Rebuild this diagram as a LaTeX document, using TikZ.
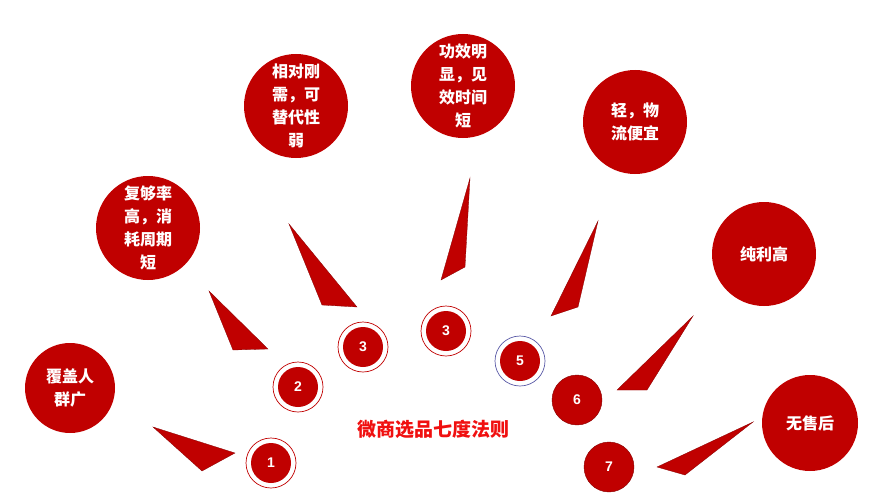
\documentclass[tikz,border=0pt]{standalone}
\usepackage{fontspec}
\newfontfamily\cjk{Noto Sans CJK SC}
\newfontfamily\numf{Liberation Sans}
\definecolor{dred}{HTML}{C00000}
\definecolor{tred}{HTML}{F01010}
\begin{document}
\begin{tikzpicture}[x=1pt,y=-1pt,
 big/.style={circle,fill=dred,text=white,font=\cjk\bfseries\fontsize{16}{23}\selectfont,align=center,inner sep=0pt},
 num/.style={circle,fill=dred,text=white,font=\numf\bfseries\fontsize{14}{14}\selectfont,minimum size=40pt,inner sep=0pt},
 ring/.style={circle,draw=dred,line width=0.7pt,minimum size=50pt,inner sep=0pt},
 wedge/.style={fill=dred,draw=dred!70!black,line width=0.3pt}]
\useasboundingbox (0,0) rectangle (891,503);
\node[big,minimum size=90pt] (b1) at (70,388) {覆盖人\\群广};
\node[big,minimum size=104pt] (b2) at (148,228) {复够率\\高，消\\耗周期\\短};
\node[big,minimum size=104pt] (b3) at (296,106) {相对刚\\需，可\\替代性\\弱};
\node[big,minimum size=104pt] (b4) at (463,86) {功效明\\显，见\\效时间\\短};
\node[big,minimum size=104pt] (b5) at (635,122) {轻，物\\流便宜};
\node[big,minimum size=104pt] (b6) at (764,254) {纯利高};
\node[big,minimum size=96pt] (b7) at (810,423) {无售后};
\node[ring] (r1) at (271,463) {}; \node[num] (n1) at (r1) {1};
\node[ring] (r2) at (298,387) {}; \node[num] (n2) at (r2) {2};
\node[ring] (r3) at (363,347) {}; \node[num] (n3) at (r3) {3};
\node[ring] (r4) at (446,331) {}; \node[num] (n4) at (r4) {3};
\node[ring,draw=gray!70!blue] (r5) at (520,361) {}; \node[num] (n5) at (r5) {5};
\node[num,minimum size=50pt,draw=dred!70!black] (n6) at (577,400) {6};
\node[num,minimum size=50pt,draw=dred!70!black] (n7) at (609,467) {7};
\node[text=tred,font=\cjk\bfseries\fontsize{19}{19}\selectfont] (title) at (433,429) {微商选品七度法则};
\fill[wedge] (153,427) -- (235,453) -- (202,471) -- cycle;
\fill[wedge] (209,291) -- (268,349) -- (233,350) -- cycle;
\fill[wedge] (289,224) -- (357,307) -- (322,305) -- cycle;
\fill[wedge] (470,178) -- (465,267) -- (441,280) -- cycle;
\fill[wedge] (598,221) -- (578,307) -- (551,316) -- cycle;
\fill[wedge] (693,316) -- (647,390) -- (617,390) -- cycle;
\fill[wedge] (753,422) -- (685,475) -- (657,467) -- cycle;
\end{tikzpicture}
\end{document}
